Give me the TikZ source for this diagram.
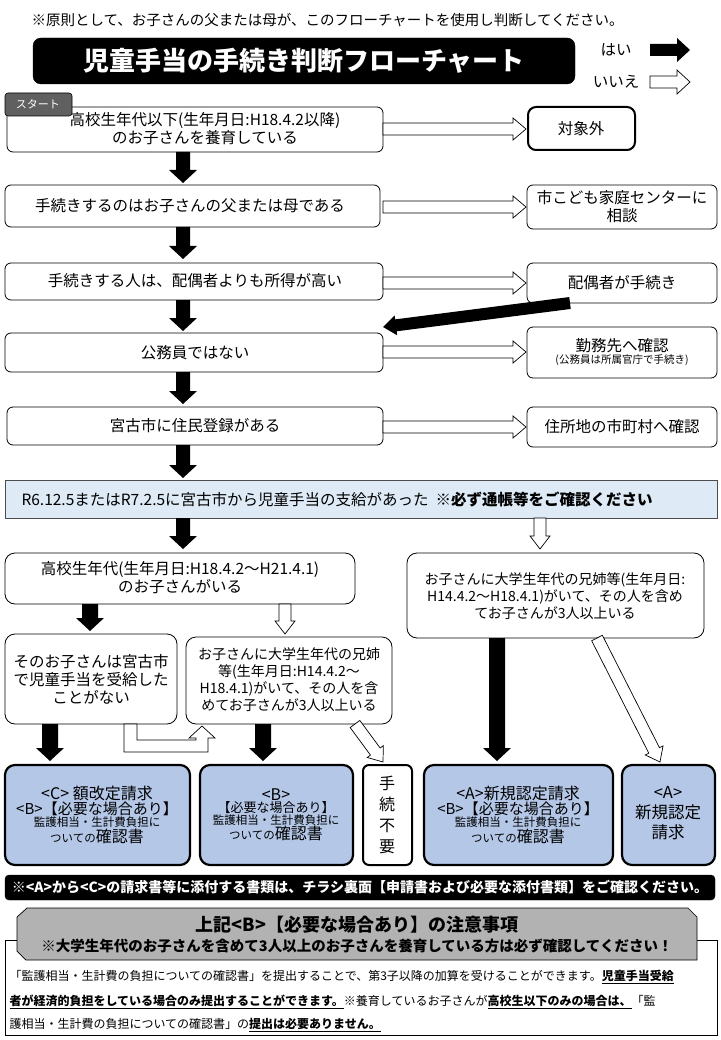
\documentclass[tikz,border=0pt]{standalone}
\usepackage{fontspec}
\setmainfont{Noto Sans CJK JP}
\usetikzlibrary{calc}
\definecolor{bluebox}{HTML}{B4C7E7}
\definecolor{bannerblue}{HTML}{DEEBF7}
\newcommand\fatarrow[5]{% style, from, to, half shaft, half head
 \path[#1] let \p1=($(#3)-(#2)$), \n1={veclen(\x1,\y1)}, \n2={atan2(\y1,\x1)} in
 [shift={(#2)}, rotate=\n2] (0pt,{-#4*1pt})--({(\n1-13)*1pt},{-#4*1pt})--({(\n1-13)*1pt},{-#5*1pt})--({\n1*1pt},0pt)--({(\n1-13)*1pt},{#5*1pt})--({(\n1-13)*1pt},{#4*1pt})--(0pt,{#4*1pt})--cycle;}
\tikzset{
 box/.style={draw,rounded corners=6pt,line width=0.8pt,fill=white},
 res/.style={draw,rounded corners=10pt,line width=2.2pt,fill=bluebox},
 yes/.style={fill=black},
 no/.style={draw=black,fill=white,line width=0.7pt},
 t/.style={font=\fontsize{15.5}{18}\selectfont,align=center},
 ts/.style={font=\fontsize{14}{17}\selectfont,align=center},
}
\begin{document}
\begin{tikzpicture}[x=1pt,y=-1pt]
\useasboundingbox (0,0) rectangle (720,1040);
\node[font=\fontsize{14.5}{17}\selectfont,anchor=west] (note) at (28,20) {※原則として、お子さんの父または母が、このフローチャートを使用し判断してください。};
\draw[fill=black,rounded corners=8pt] (33,38) rectangle (575,84);
\node[text=white,font=\fontsize{26}{30}\selectfont\bfseries] (title) at (304,61) {児童手当の手続き判断フローチャート};
\node[t] (hai) at (616,50) {はい};
\node[t] (iie) at (616,82) {いいえ};
\coordinate (y1) at (650,50); \coordinate (y2) at (690,50);
\coordinate (n1) at (650,82); \coordinate (n2) at (690,82);
\fatarrow{yes}{y1}{y2}{6}{12}
\fatarrow{no}{n1}{n2}{6}{12}
% rows
\draw[box] (7,107) rectangle (383,152); \node[t] (b1) at (205,129) {高校生年代以下(生年月日:H18.4.2以降)\\のお子さんを養育している};
\draw[fill=gray!75!black,draw=black,rounded corners=3pt,line width=0.6pt] (5,93) rectangle (72,116);
\node[text=white,font=\fontsize{11}{13}\selectfont] (start) at (38,104) {スタート};
\draw[draw=black,line width=2pt,rounded corners=8pt] (528,107) rectangle (635,150); \node[t] (r1) at (581,129) {対象外};
\draw[box] (5,185) rectangle (380,227); \node[t] (b2) at (190,206) {手続きするのはお子さんの父または母である};
\draw[box] (527,185) rectangle (717,229); \node[t] (r2) at (622,207) {市こども家庭センターに\\相談};
\draw[box] (5,263) rectangle (383,300); \node[t] (b3) at (195,281) {手続きする人は、配偶者よりも所得が高い};
\draw[box] (527,263) rectangle (717,303); \node[t] (r3) at (622,283) {配偶者が手続き};
\draw[box] (5,333) rectangle (383,372); \node[t] (b4) at (195,353) {公務員ではない};
\draw[box] (527,327) rectangle (717,378); \node[align=center] (r4) at (622,352) {{\fontsize{15.5}{17}\selectfont 勤務先へ確認}\\{\fontsize{10.5}{12}\selectfont (公務員は所属官庁で手続き)}};
\draw[box] (7,407) rectangle (383,445); \node[t] (b5) at (195,426) {宮古市に住民登録がある};
\draw[box] (527,407) rectangle (717,447); \node[t] (r5) at (622,427) {住所地の市町村へ確認};
\draw[fill=bannerblue,draw=black!70,line width=0.6pt] (5,480) rectangle (717,518);
\node[font=\fontsize{15.5}{18}\selectfont,anchor=west] (ban) at (18,499) {R6.12.5またはR7.2.5に宮古市から児童手当の支給があった\ \ \textbf{※必ず通帳等をご確認ください}};
\draw[box,rounded corners=10pt] (5,553) rectangle (355,604); \node[t] (b6) at (180,578) {高校生年代(生年月日:H18.4.2～H21.4.1)\\のお子さんがいる};
\draw[box,rounded corners=10pt] (407,553) rectangle (704,638); \node[ts] (b7) at (555,596) {お子さんに大学生年代の兄姉等(生年月日:\\H14.4.2～H18.4.1)がいて、その人を含め\\てお子さんが3人以上いる};
\draw[box,rounded corners=10pt] (5,634) rectangle (177,724); \node[t] (b8) at (91,679) {そのお子さんは宮古市\\で児童手当を受給した\\ことがない};
\draw[box,rounded corners=10pt] (186,637) rectangle (392,724); \node[ts] (b9) at (289,680) {お子さんに大学生年代の兄姉\\等(生年月日:H14.4.2～\\H18.4.1)がいて、その人を含\\めてお子さんが3人以上いる};
% results
\draw[res] (5,765) rectangle (190,865); \node[align=center] (c1) at (97,815) {{\fontsize{16}{19}\selectfont <C> 額改定請求}\\{\fontsize{15}{19}\selectfont <B>【必要な場合あり】}\\{\fontsize{11.5}{13}\selectfont 監護相当・生計費負担に}\\{\fontsize{11.5}{17}\selectfont ついての}{\fontsize{16}{17}\selectfont 確認書}};
\draw[res] (200,765) rectangle (353,865); \node[align=center] (c2) at (276,815) {{\fontsize{16}{19}\selectfont <B>}\\{\fontsize{13}{15}\selectfont 【必要な場合あり】}\\{\fontsize{11.5}{13}\selectfont 監護相当・生計費負担に}\\{\fontsize{11.5}{17}\selectfont ついての}{\fontsize{16}{17}\selectfont 確認書}};
\draw[draw=black,line width=2pt,rounded corners=6pt,fill=white] (363,765) rectangle (412,865); \node[align=center,font=\fontsize{16}{21}\selectfont] (c3) at (387,815) {手\\続\\不\\要};
\draw[res] (424,765) rectangle (613,865); \node[align=center] (c4) at (518,815) {{\fontsize{16}{19}\selectfont <A>新規認定請求}\\{\fontsize{15}{19}\selectfont <B>【必要な場合あり】}\\{\fontsize{11.5}{13}\selectfont 監護相当・生計費負担に}\\{\fontsize{11.5}{17}\selectfont ついての}{\fontsize{16}{17}\selectfont 確認書}};
\draw[res] (622,765) rectangle (715,865); \node[align=center,font=\fontsize{16.5}{20}\selectfont] (c5) at (668,813) {<A>\\新規認定\\請求};
% yes arrows
\foreach \a/\b in {152/183,227/259,300/331,372/404,445/478,518/549}{
 \coordinate (p) at (183,\a); \coordinate (q) at (183,\b); \fatarrow{yes}{p}{q}{7}{14}}
\foreach \yy in {129,207,283,352,427}{
 \coordinate (p) at (383,\yy); \coordinate (q) at (526,\yy); \fatarrow{no}{p}{q}{6}{11}}
\coordinate (p) at (570,303); \coordinate (q) at (383,327); \fatarrow{yes}{p}{q}{6}{10}
\coordinate (p) at (540,518); \coordinate (q) at (540,549); \fatarrow{no}{p}{q}{6}{10}
\coordinate (p) at (90,604); \coordinate (q) at (90,631); \fatarrow{yes}{p}{q}{8}{14}
\coordinate (p) at (285,604); \coordinate (q) at (285,634); \fatarrow{no}{p}{q}{6}{10}
\coordinate (p) at (50,724); \coordinate (q) at (50,761); \fatarrow{yes}{p}{q}{8}{14}
\coordinate (p) at (263,724); \coordinate (q) at (263,761); \fatarrow{yes}{p}{q}{8}{14}
\coordinate (p) at (497,638); \coordinate (q) at (497,761); \fatarrow{yes}{p}{q}{8}{14}
\coordinate (p) at (355,724); \coordinate (q) at (383,762); \fatarrow{no}{p}{q}{6}{10}
\coordinate (p) at (597,638); \coordinate (q) at (660,762); \fatarrow{no}{p}{q}{6}{10}
\path[no] (124,724)--(124,752)--(208,752)--(208,738)--(215,738)--(202,726)--(189,738)--(196,738)--(196,740)--(137,740)--(137,724)--cycle;
% bottom
\draw[fill=black,rounded corners=4pt] (5,875) rectangle (715,900);
\node[text=white,font=\fontsize{14}{16}\selectfont\bfseries] (note2) at (360,887) {※<A>から<C>の請求書等に添付する書類は、チラシ裏面【申請書および必要な添付書類】をご確認ください。};
\draw[line width=0.7pt,fill=white] (17,940) -- (5,940) -- (5,1035) -- (717,1035) -- (717,940) -- (697,940);
\draw[fill=gray!60,draw=black,line width=0.7pt] (27,908) -- (688,908) -- (697,917) -- (697,960) -- (26,960) -- (17,951) -- (17,917) -- cycle;
\node[font=\fontsize{18}{21}\selectfont\bfseries] (h1) at (357,925) {上記<B>【必要な場合あり】の注意事項};
\node[font=\fontsize{14.5}{16}\selectfont\bfseries] (h2) at (357,946) {※大学生年代のお子さんを含めて3人以上のお子さんを養育している方は必ず確認してください！};
\node[anchor=west,font=\fontsize{12}{13}\selectfont] (l1) at (6,977) {「監護相当・生計費の負担についての確認書」を提出することで、第3子以降の加算を受けることができます。\textbf{\underline{児童手当受給}}};
\node[anchor=west,font=\fontsize{12}{13}\selectfont] (l2) at (6,1002) {\textbf{\underline{者が経済的負担をしている場合のみ提出することができます。}}※養育しているお子さんが\textbf{\underline{高校生以下のみの場合は、}}「監};
\node[anchor=west,font=\fontsize{12}{13}\selectfont] (l3) at (6,1025) {護相当・生計費の負担についての確認書」の\textbf{\underline{提出は必要ありません。}}};
\end{tikzpicture}
\end{document}
